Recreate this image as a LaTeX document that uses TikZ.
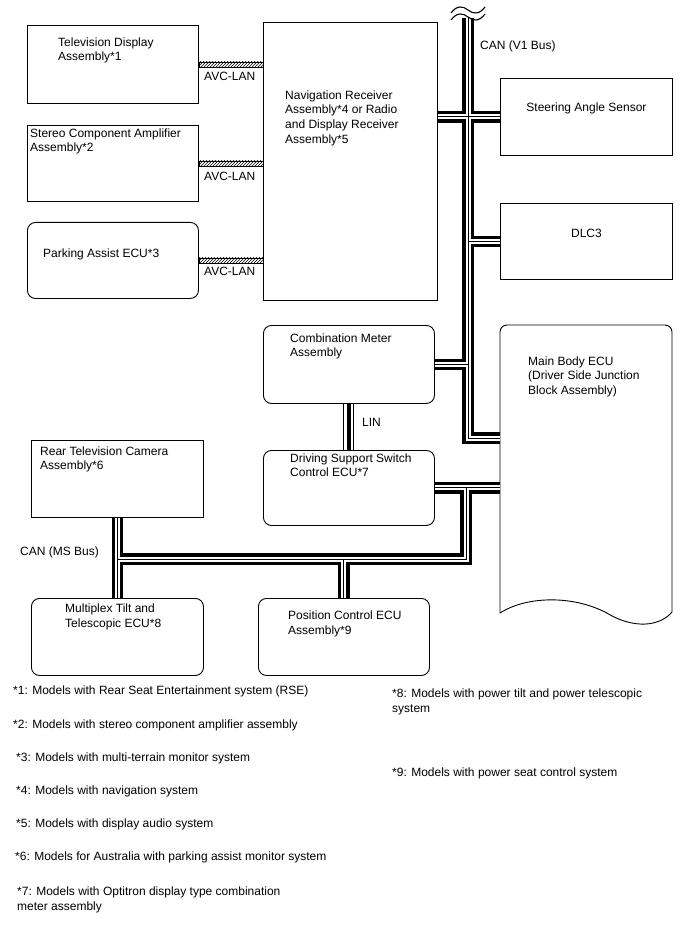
\documentclass[tikz,border=0pt]{standalone}
\usepackage{fontspec}
\setmainfont{Liberation Sans}
\usetikzlibrary{patterns,calc}
\newcommand\vonebus[1]{%
  \draw[#1] (v1top) -- (v1bot) -- (main.west |- v1bot);
  \draw[#1] (nav.east |- steer.west) -- (steer.west);
  \draw[#1] (v1top |- dlc.west) -- (dlc.west);
  \draw[#1] (comb.east) -- (comb.east -| v1top);
}
\newcommand\msbus[1]{%
  \draw[#1] (drive.east) -- (main.west |- drive.east);
  \draw[#1] (ms1) -- (ms2) -- (ms3);
  \draw[#1] (reartv.south) -- (multi.north);
  \draw[#1] (pos.north |- ms3) -- (pos.north);
}
\begin{document}
\begin{tikzpicture}[x=1pt,y=-1pt,
  box/.style={draw=black, line width=0.9pt, inner sep=0pt, anchor=north west},
  rbox/.style={box, rounded corners=8pt},
  txt/.style={anchor=north west, inner sep=0pt, align=left, font=\fontsize{12}{14.6}\selectfont},
  ctxt/.style={inner sep=0pt, font=\fontsize{12}{14.6}\selectfont},
  busout/.style={line width=11.5pt, black},
  busmid/.style={line width=5pt, white},
  buscore/.style={line width=1pt, black},
  avc/.style={pattern=north east lines, draw=black, line width=0.6pt},
]
\useasboundingbox (0,0) rectangle (688,949);

% boxes
\node[box, minimum width=171pt, minimum height=78pt] (tv) at (27,25) {};
\node[box, minimum width=171pt, minimum height=76pt] (stereo) at (27,125) {};
\node[rbox, minimum width=171pt, minimum height=76pt] (park) at (27,222) {};
\node[box, minimum width=174pt, minimum height=278pt] (nav) at (263,22) {};
\node[box, minimum width=172pt, minimum height=77pt] (steer) at (500,78) {};
\node[box, minimum width=172pt, minimum height=76pt] (dlc) at (500,203) {};
\node[rbox, minimum width=171pt, minimum height=78pt] (comb) at (263,325) {};
\node[inner sep=0pt, anchor=north west, minimum width=172pt, minimum height=295pt] (main) at (500,325) {};
\node[rbox, minimum width=171pt, minimum height=75pt] (drive) at (263,450) {};
\node[box, minimum width=172pt, minimum height=77pt] (reartv) at (31,440) {};
\node[rbox, minimum width=172pt, minimum height=77pt] (multi) at (31,598) {};
\node[rbox, minimum width=171pt, minimum height=77pt] (pos) at (258,598) {};

% main body outline
\draw[line width=0.9pt, rounded corners=7pt] (500,613) -- (500,325) -- (672,325) -- (672,612);
\draw[line width=0.9pt] (500,613) .. controls (528,595) and (578,595) .. (612,616)
  .. controls (640,630) and (662,624) .. (672,612);

% texts in boxes
\node[txt] (ttv) at (58,37.5) {Television Display\\Assembly*1};
\node[txt] (tstereo) at (30,128.5) {Stereo Component Amplifier\\Assembly*2};
\node[txt] (tpark) at (43,248.5) {Parking Assist ECU*3};
\node[txt] (tnav) at (285,90.5) {Navigation Receiver\\Assembly*4 or Radio\\and Display Receiver\\Assembly*5};
\node[ctxt] (tsteer) at ($(steer.center)+(0,-9)$) {Steering Angle Sensor};
\node[ctxt] (tdlc) at ($(dlc.center)+(0,-8)$) {DLC3};
\node[txt] (tcomb) at (290,333.5) {Combination Meter\\Assembly};
\node[txt] (tmain) at (528,356.5) {Main Body ECU\\(Driver Side Junction\\Block Assembly)};
\node[txt] (tdrive) at (290,453.5) {Driving Support Switch\\Control ECU*7};
\node[txt] (treartv) at (40,446.5) {Rear Television Camera\\Assembly*6};
\node[txt] (tmulti) at (65,603.5) {Multiplex Tilt and\\Telescopic ECU*8};
\node[txt] (tpos) at (288,610.5) {Position Control ECU\\Assembly*9};

% AVC-LAN
\fill[avc] ($(tv.east)+(0,-2.5)$) rectangle ($(tv.east -| nav.west)+(0,2.5)$);
\fill[avc] ($(stereo.east)+(0,-2.5)$) rectangle ($(stereo.east -| nav.west)+(0,2.5)$);
\fill[avc] ($(park.east)+(0,-2.5)$) rectangle ($(park.east -| nav.west)+(0,2.5)$);
\node[txt] (l1) at (204,71.5) {AVC-LAN};
\node[txt] (l2) at (204,171.5) {AVC-LAN};
\node[txt] (l3) at (204,266.5) {AVC-LAN};

% bus coordinates
\coordinate (v1top) at (468,18);
\coordinate (v1bot) at (468,438);
\coordinate (ms1) at (466,487.5);
\coordinate (ms2) at (466,559);
\coordinate (ms3) at (117,559);

\vonebus{busout}
\msbus{busout}
\vonebus{busmid}
\msbus{busmid}
\vonebus{buscore}
\msbus{buscore}

% break mark
\draw[line width=1.1pt] (451,13) .. controls (457,5) and (463,6) .. (468,10) .. controls (473,14) and (479,15) .. (485,7);
\draw[line width=1.1pt] (451,20) .. controls (457,12) and (463,13) .. (468,17) .. controls (473,21) and (479,22) .. (485,14);

% LIN
\draw[line width=11pt, black] (comb.south) -- (drive.north);
\draw[line width=9pt, white] (comb.south) -- (drive.north);
\draw[line width=4.5pt, black] (comb.south) -- (drive.north);

% labels
\node[txt] (lv1) at (480,40.5) {CAN (V1 Bus)};
\node[txt] (llin) at (362,418.5) {LIN};
\node[txt] (lms) at (20,546.5) {CAN (MS Bus)};

% footnotes
\node[txt] (f1) at (13,685.5) {*1: Models with Rear Seat Entertainment system (RSE)};
\node[txt] (f2) at (13,719.5) {*2: Models with stereo component amplifier assembly};
\node[txt] (f3) at (16,752.5) {*3: Models with multi-terrain monitor system};
\node[txt] (f4) at (16,785.5) {*4: Models with navigation system};
\node[txt] (f5) at (16,818.5) {*5: Models with display audio system};
\node[txt] (f6) at (15,851.5) {*6: Models for Australia with parking assist monitor system};
\node[txt] (f7) at (17,886.5) {*7: Models with Optitron display type combination\\meter assembly};
\node[txt] (f8) at (392,688.5) {*8: Models with power tilt and power telescopic\\system};
\node[txt] (f9) at (392,767.5) {*9: Models with power seat control system};
\end{tikzpicture}
\end{document}
